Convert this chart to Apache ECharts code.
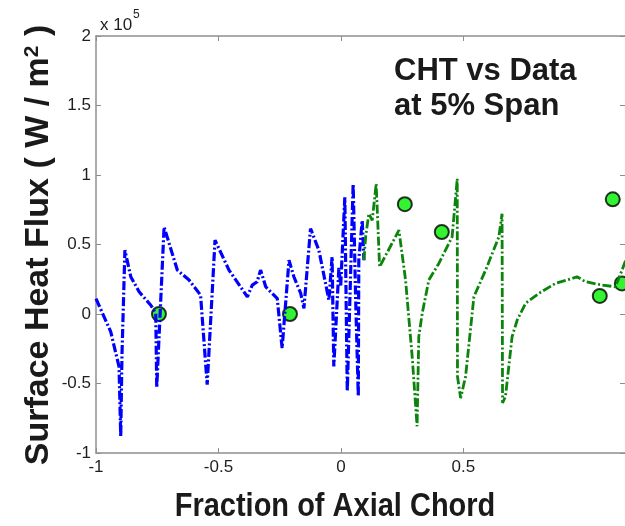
<!DOCTYPE html>
<html><head><meta charset="utf-8">
<script src="https://cdn.jsdelivr.net/npm/echarts@6/dist/echarts.min.js"></script>
<style>html,body{margin:0;padding:0;background:#fff}#c{width:625px;height:526px}</style>
</head><body><div id="c"></div>
<script>
// Values in units of 10^5 W/m^2 (as labelled on the axis)
const blueX = [-1.0,-0.94,-0.906,-0.899,-0.894,-0.882,-0.858,-0.824,-0.777,-0.756,-0.752,-0.722,-0.668,-0.62,-0.573,-0.546,-0.514,-0.457,-0.382,-0.362,-0.342,-0.328,-0.307,-0.294,-0.26,-0.24,-0.212,-0.192,-0.164,-0.151,-0.124,-0.09,-0.049,-0.036,-0.029,-0.008,-0.001,0.016,0.026,0.05,0.06,0.071,0.073,0.087,0.094];
const blueY = [0.11,-0.127,-0.378,-0.88,-0.3,0.459,0.268,0.16,0.065,0.005,-0.53,0.626,0.316,0.244,0.136,-0.509,0.531,0.316,0.124,0.208,0.232,0.316,0.196,0.172,0.113,-0.246,0.387,0.268,0.148,0.041,0.615,0.459,0.1,0.411,-0.378,0.339,0.196,0.84,-0.557,0.937,0.124,-0.593,0.387,0.674,0.387];
const greenX = [0.094,0.101,0.114,0.128,0.144,0.158,0.237,0.264,0.291,0.311,0.318,0.332,0.359,0.4,0.454,0.475,0.476,0.489,0.509,0.543,0.591,0.645,0.658,0.66,0.672,0.699,0.72,0.754,0.808,0.876,0.944,0.964,0.999,1.067,1.121,1.148,1.176];
const greenY = [0.387,0.555,0.722,0.674,0.937,0.339,0.603,0.244,-0.306,-0.808,-0.163,0.005,0.244,0.364,0.555,0.973,-0.45,-0.605,-0.45,0.124,0.316,0.555,0.722,-0.64,-0.593,-0.163,-0.043,0.077,0.148,0.22,0.256,0.268,0.232,0.208,0.196,0.316,0.45];
const dataX = [-0.743,-0.208,0.261,0.412,1.057,1.110,1.147];
const dataY = [0,0,0.79,0.59,0.13,0.825,0.22];
const xTicks = [-1,-0.5,0,0.5];

const zip = (a,b)=>a.map((v,i)=>[v,b[i]]);
const FONT = 'Liberation Sans, Arial, sans-serif';
const axisCol = '#8f8f8f';
const tickStyle = {show:true, inside:true, length:5, lineStyle:{color:axisCol,width:1}};
const chart = echarts.init(document.getElementById('c'));
chart.setOption({
  animation:false,
  grid:{left:96, right:0, top:36, bottom:73, containLabel:false},
  xAxis:[
    {type:'value', min:-1, max:1.16, position:'bottom',
     axisLine:{show:true, onZero:false, lineStyle:{color:axisCol,width:1.5}},
     axisTick:Object.assign({customValues:xTicks},tickStyle),
     axisLabel:{customValues:xTicks, color:'#1e1e1e', fontSize:17, fontFamily:FONT, margin:6,
       formatter:v=>String(v)},
     splitLine:{show:false}},
    {type:'value', min:-1, max:1.16, position:'top',
     axisLine:{show:true, onZero:false, lineStyle:{color:axisCol,width:1.5}},
     axisTick:Object.assign({customValues:xTicks},tickStyle),
     axisLabel:{show:false}, splitLine:{show:false}}
  ],
  yAxis:[
    {type:'value', min:-1, max:2, interval:0.5, position:'left',
     axisLine:{show:true, onZero:false, lineStyle:{color:axisCol,width:1.5}},
     axisTick:tickStyle,
     axisLabel:{color:'#1e1e1e', fontSize:17, fontFamily:FONT, margin:5, formatter:v=>String(v)},
     splitLine:{show:false}},
    {type:'value', min:-1, max:2, interval:0.5, position:'right',
     axisLine:{show:false, onZero:false},
     axisTick:tickStyle, axisLabel:{show:false}, splitLine:{show:false}}
  ],
  series:[
    {type:'line', data:zip(blueX,blueY), symbol:'none', clip:true,
     lineStyle:{color:'#0000ff', width:3.2, type:[9,2.5,2,2.5]}},
    {type:'line', data:zip(greenX,greenY), symbol:'none', clip:true,
     lineStyle:{color:'#0a840a', width:2.8, type:[9,2.5,2,2.5]}},
    {type:'scatter', data:zip(dataX,dataY), symbol:'circle', symbolSize:14, clip:false,
     itemStyle:{color:'#00f000', borderColor:'#000', borderWidth:2}}
  ],
  graphic:[
    {type:'text', left:100, top:17, style:{text:'x 10', font:'17px '+FONT, fill:'#1e1e1e'}},
    {type:'text', left:133, top:9, style:{text:'5', font:'12px '+FONT, fill:'#1e1e1e'}},
    {type:'text', left:394, top:54, style:{text:'CHT vs Data\nat 5% Span', font:'bold 31px '+FONT, lineHeight:35, fill:'#1a1a1a'}},
    {type:'text', x:335, y:507, scaleY:1.15, style:{text:'Fraction of Axial Chord', font:'bold 29px '+FONT, fill:'#1a1a1a', align:'center', verticalAlign:'middle'}},
    {type:'text', x:39, y:245, rotation:Math.PI/2, style:{text:'Surface Heat Flux ( W / m{s|2} )', font:'bold 34px '+FONT, fill:'#1a1a1a', align:'center', verticalAlign:'middle',
      rich:{s:{font:'bold 21px '+FONT, fill:'#1a1a1a', verticalAlign:'top', padding:[0,0,14,0]}}}}
  ]
});
</script></body></html>
